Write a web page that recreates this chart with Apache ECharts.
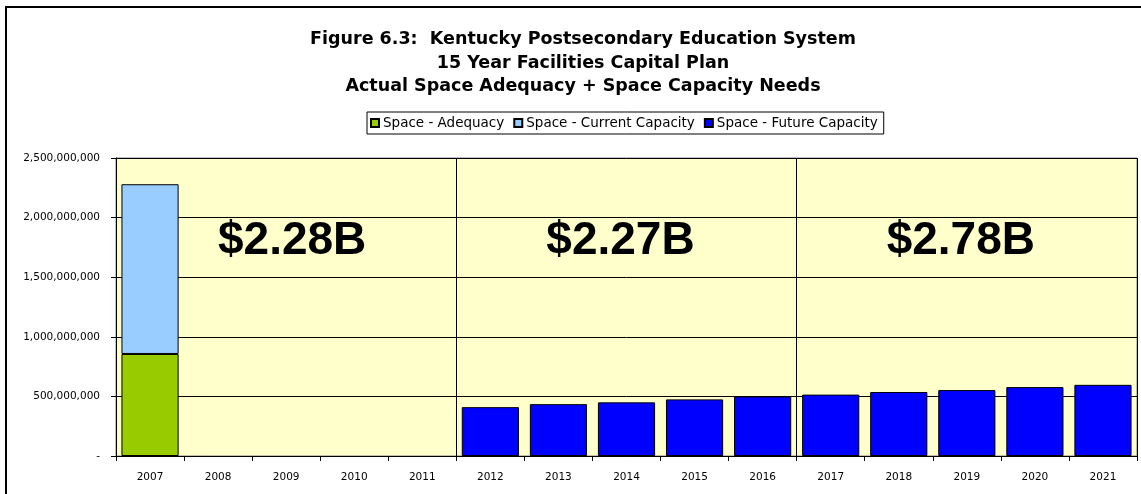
<!DOCTYPE html>
<html>
<head>
<meta charset="utf-8">
<script src="https://cdn.jsdelivr.net/npm/echarts@6/dist/echarts.min.js"></script>
<style>
  html, body { margin: 0; padding: 0; background: #fff; }
  #chart { width: 1141px; height: 494px; }
</style>
</head>
<body>
<div id="chart"></div>
<script>
var years = ['2007', '2008', '2009', '2010', '2011', '2012', '2013', '2014', '2015', '2016', '2017', '2018', '2019', '2020', '2021']
var adequacy = [856000000, null, null, null, null, null, null, null, null, null, null, null, null, null, null]
var currentCapacity = [1424000000, null, null, null, null, null, null, null, null, null, null, null, null, null, null]
var futureCapacity = [null, null, null, null, null, 410000000, 435000000, 450000000, 475000000, 500000000, 515000000, 537000000, 553000000, 578000000, 597000000]
var sectionLabels = ['$2.28B', '$2.27B', '$2.78B']
var sectionCenters = ['2009', '2014', '2019']
var sectionLabelValue = 1800000000

var font = 'DejaVu Sans'
var chart = echarts.init(document.getElementById('chart'))

// nudge the big totals a bit, like in the original
var nudges = [[6, 0], [-6, 0], [-6, 0]]
var markData = []
for (var i = 0; i < sectionLabels.length; i++) {
  markData.push({
    coord: [sectionCenters[i], sectionLabelValue],
    value: sectionLabels[i],
    label: { offset: nudges[i] }
  })
}

chart.setOption({
  animation: false,
  backgroundColor: '#fff',
  title: {
    text: 'Figure 6.3:  Kentucky Postsecondary Education System\n15 Year Facilities Capital Plan\nActual Space Adequacy + Space Capacity Needs',
    left: 578,
    textAlign: 'center',
    top: 23,
    textStyle: {
      fontFamily: font,
      fontSize: 17.5,
      fontWeight: 'bold',
      color: '#000',
      lineHeight: 23.5
    }
  },
  legend: {
    data: ['Space - Adequacy', 'Space - Current Capacity', 'Space - Future Capacity'],
    left: 367,
    top: 112,
    itemWidth: 8,
    itemHeight: 8,
    itemGap: 9,
    icon: 'rect',
    padding: [4, 6, 4, 3],
    borderColor: '#000',
    borderWidth: 1,
    backgroundColor: '#fff',
    textStyle: { fontFamily: font, fontSize: 13.5, color: '#000', padding: [0, 0, 0, -1] }
  },
  grid: {
    left: 116,
    right: 4,
    top: 158,
    bottom: 38,
    show: true,
    backgroundColor: '#FFFFCC',
    borderColor: '#808080',
    borderWidth: 1
  },
  xAxis: {
    type: 'category',
    data: years,
    axisLine: { lineStyle: { color: '#000', width: 1 } },
    axisTick: { show: true, length: 5, lineStyle: { color: '#000' } },
    axisLabel: { fontFamily: font, fontSize: 10.5, color: '#000', margin: 16 },
    splitLine: {
      show: true,
      interval: function (idx) { return idx === 5 || idx === 10 },
      lineStyle: { color: '#000', width: 1 }
    }
  },
  yAxis: {
    type: 'value',
    min: 0,
    max: 2500000000,
    interval: 500000000,
    axisLine: { show: true, lineStyle: { color: '#000' } },
    axisTick: { show: true, length: 5, lineStyle: { color: '#000' } },
    axisLabel: {
      fontFamily: font,
      fontSize: 10.5,
      color: '#000',
      margin: 16,
      formatter: function (v) { return v === 0 ? '-' : v.toLocaleString('en-US') }
    },
    splitLine: { lineStyle: { color: '#000', width: 1 } }
  },
  series: [
    {
      name: 'Space - Adequacy',
      type: 'bar',
      stack: 'all',
      barCategoryGap: '16%',
      itemStyle: { color: '#99CC00', borderColor: '#000', borderWidth: 1 },
      data: adequacy
    },
    {
      name: 'Space - Current Capacity',
      type: 'bar',
      stack: 'all',
      itemStyle: { color: '#99CCFF', borderColor: '#000', borderWidth: 1 },
      data: currentCapacity
    },
    {
      name: 'Space - Future Capacity',
      type: 'bar',
      stack: 'all',
      itemStyle: { color: '#0000FF', borderColor: '#000', borderWidth: 1 },
      data: futureCapacity,
      markPoint: {
        symbol: 'circle',
        symbolSize: 0,
        label: {
          show: true,
          position: 'inside',
          formatter: function (p) { return p.value },
          fontFamily: 'Liberation Sans',
          fontWeight: 'bold',
          fontSize: 46,
          color: '#000'
        },
        data: markData
      }
    }
  ],
  graphic: [
    {
      type: 'rect',
      z: 100,
      shape: { x: 6, y: 7, width: 1300, height: 700 },
      style: { fill: 'none', stroke: '#000', lineWidth: 2 },
      silent: true
    }
  ]
})
</script>
</body>
</html>
